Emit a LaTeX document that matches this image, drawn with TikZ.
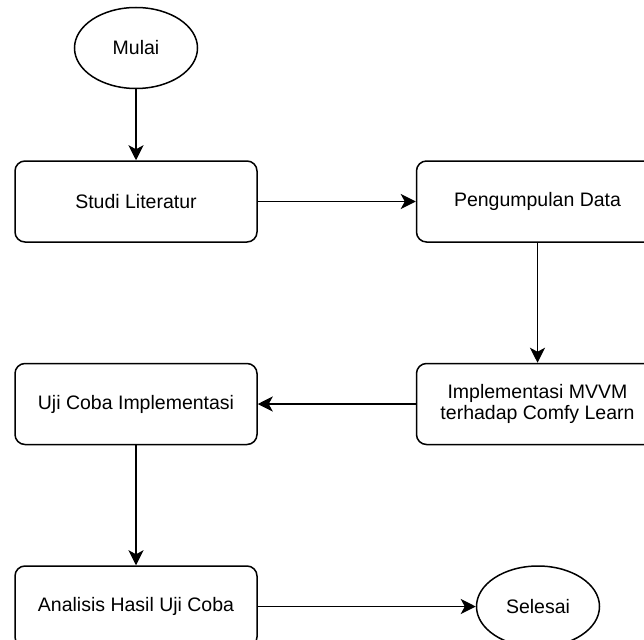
\documentclass[tikz,border=0pt]{standalone}
\usepackage{fontspec}
\setmainfont{Liberation Sans}
\usetikzlibrary{positioning,shapes.geometric,arrows.meta}

\tikzset{
  caja/.style={draw, line width=1.5pt, rounded corners=10pt, minimum width=242pt,
    minimum height=81pt, align=center, inner sep=0pt},
  elipse/.style={draw, ellipse, line width=1.5pt, minimum width=123pt,
    minimum height=81pt, inner sep=0pt},
  flecha/.style={line width=1.5pt, -{Stealth[length=15pt, width=15pt, inset=4pt]}}
}

\begin{document}
\begin{tikzpicture}[font=\fontsize{19.5}{21}\selectfont]
  \useasboundingbox (0pt,0pt) rectangle (644pt,-639pt);
  % Nodos
  \node[caja] (studi) at (136pt,-201.5pt) {Studi Literatur};
  \node[elipse] (mulai) [above=71pt of studi] {Mulai};
  \node[caja] (data) [right=158pt of studi] {Pengumpulan Data};
  \node[caja] (impl) [below=120pt of data] {Implementasi MVVM\\terhadap Comfy Learn};
  \node[caja] (uji) [left=158pt of impl] {Uji Coba Implementasi};
  \node[caja] (analisis) [below=120pt of uji] {Analisis Hasil Uji Coba};
  \node[elipse] (selesai) [right=218pt of analisis] {Selesai};

  \draw[flecha] (mulai) -- (studi);
  \draw[flecha] (studi) -- (data);
  \draw[flecha] (data) -- (impl);
  \draw[flecha] (impl) -- (uji);
  \draw[flecha] (uji) -- (analisis);
  \draw[flecha] (analisis) -- (selesai);
\end{tikzpicture}
\end{document}
